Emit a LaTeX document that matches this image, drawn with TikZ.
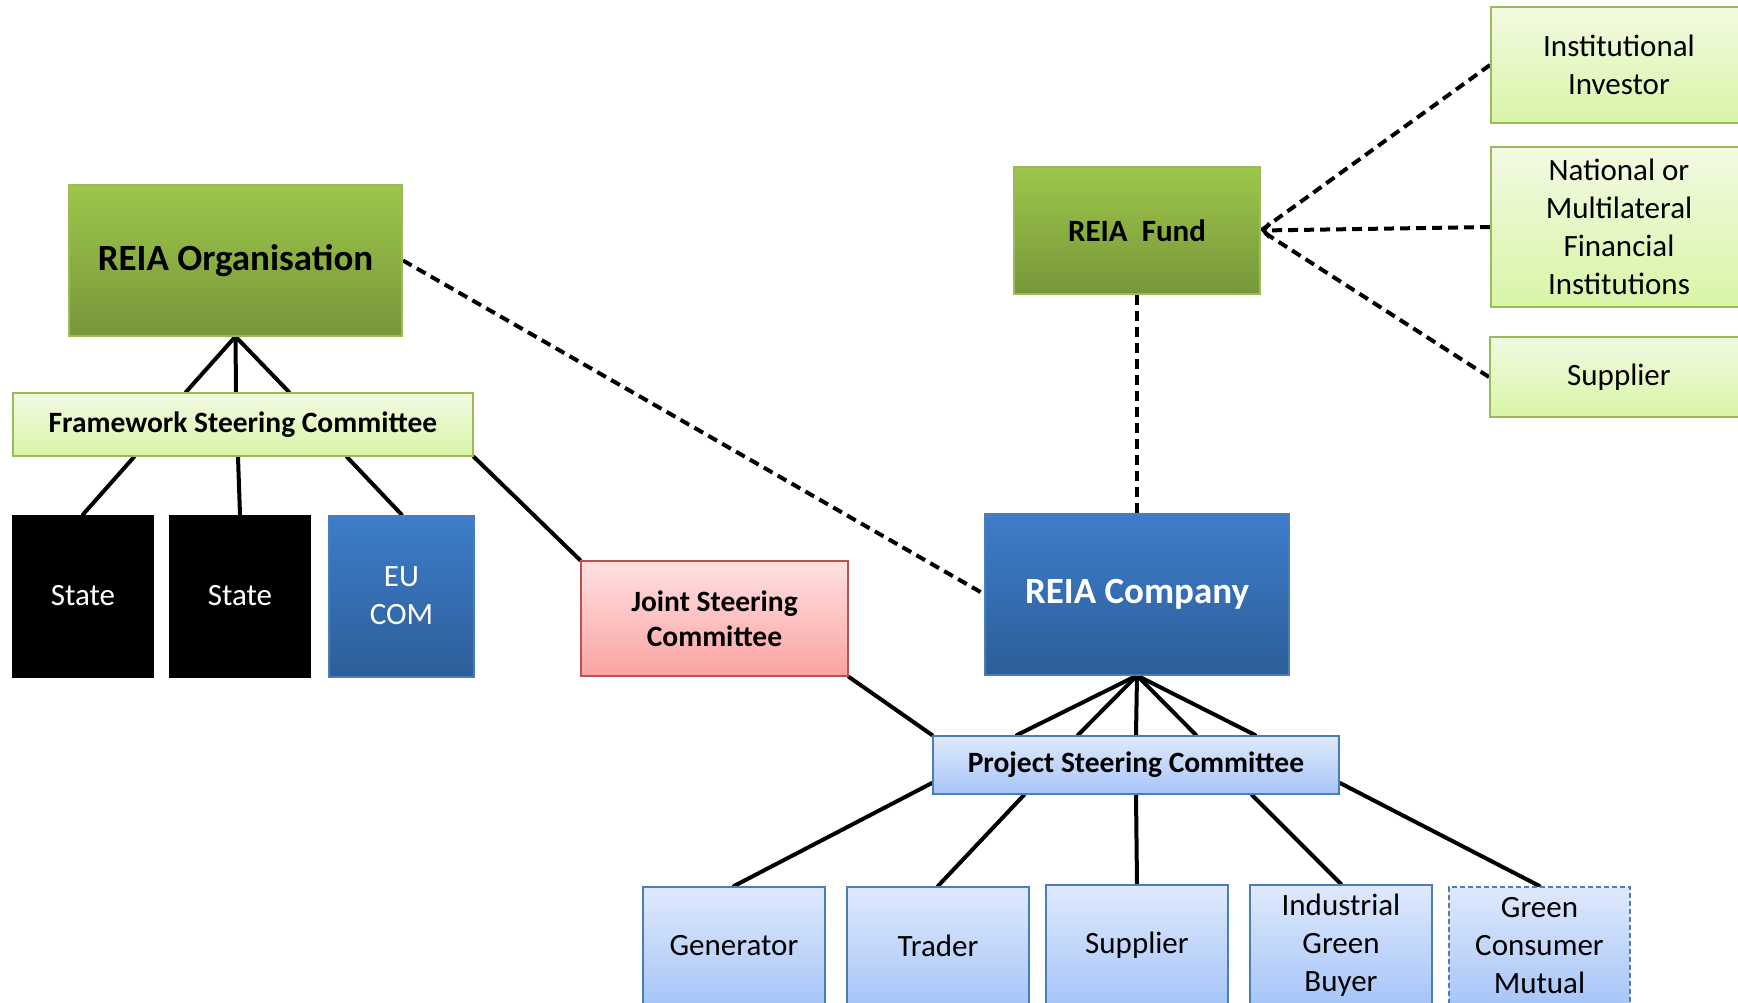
\documentclass[tikz,border=0pt]{standalone}
\usepackage{fontspec}
\setmainfont{Carlito}
\usetikzlibrary{arrows.meta,backgrounds}

% palette
\definecolor{grTop}{HTML}{9DC64B}
\definecolor{grBot}{HTML}{77973A}
\definecolor{grEdge}{HTML}{9BBB59}
\definecolor{lgTop}{HTML}{F2FAE2}
\definecolor{lgBot}{HTML}{D8F5A6}
\definecolor{blTop}{HTML}{3D7DCA}
\definecolor{blBot}{HTML}{2D5E99}
\definecolor{blEdge}{HTML}{4A7EBB}
\definecolor{lbTop}{HTML}{DFE9FC}
\definecolor{lbBot}{HTML}{A6C5F8}
\definecolor{pkTop}{HTML}{FFE1E1}
\definecolor{pkBot}{HTML}{FBA2A2}
\definecolor{pkEdge}{HTML}{C0504D}

\newcommand\txtreg{\fontsize{31}{38}\selectfont}
\newcommand\txtbig{\fontsize{37}{43}\selectfont\bfseries}
\newcommand\txtfund{\fontsize{31}{38}\selectfont\bfseries}
\newcommand\txtmid{\fontsize{29.5}{35}\selectfont\bfseries}

\begin{document}
\begin{tikzpicture}[x=1pt,y=-1pt,
  box/.style={line width=2pt, inner sep=0pt, align=center, font=\txtreg},
  darkgreen/.style={box, draw=grEdge, top color=grTop, bottom color=grBot},
  lightgreen/.style={box, draw=grEdge, top color=lgTop, bottom color=lgBot},
  darkblue/.style={box, draw=blEdge, top color=blTop, bottom color=blBot, text=white},
  lightblue/.style={box, draw=blEdge, top color=lbTop, bottom color=lbBot},
  pinkbox/.style={box, draw=pkEdge, top color=pkTop, bottom color=pkBot},
  statebox/.style={box, draw=black, fill=black, text=white},
  conn/.style={line width=4pt, line cap=round},
  dconn/.style={line width=4pt, dash pattern=on 10pt off 6pt},
  tipin/.style={-{Straight Barb[length=6pt,width=14pt,line width=4pt]}}
]
\useasboundingbox (0,0) rectangle (1738,1003);
\clip (0,0) rectangle (1738,1003);

% left branch: organisation and framework committee
\node[darkgreen, minimum width=333pt, minimum height=150pt, font=\txtbig] (org) at (235.5,260.5) {REIA Organisation};
\node[lightgreen, minimum width=460pt, minimum height=63pt, font=\txtmid] (fsc) at (243,424.5) {Framework Steering Committee};
\node[statebox, minimum width=140pt, minimum height=161pt] (st1) at (83,596) {State};
\node[statebox, minimum width=140pt, minimum height=161pt] (st2) at (240,596) {State};
\node[darkblue, minimum width=145pt, minimum height=161pt] (eu) at (401.5,596) {EU\\COM};

% centre: joint committee, company, fund
\node[pinkbox, minimum width=267pt, minimum height=115pt, font=\txtmid] (jsc) at (714.5,618.5) {Joint Steering\\Committee};
\node[darkblue, minimum width=304pt, minimum height=161pt, font=\txtbig] (comp) at (1137,594) {REIA Company};
\node[darkgreen, minimum width=246pt, minimum height=127pt, font=\txtfund] (fund) at (1137,230.5) {REIA\ \ Fund};

% fund contributors
\node[lightgreen, minimum width=256pt, minimum height=116pt] (inv) at (1619,65) {Institutional\\Investor};
\node[lightgreen, minimum width=256pt, minimum height=160pt] (nat) at (1619,227) {National or\\Multilateral\\Financial\\Institutions};
\node[lightgreen, minimum width=258pt, minimum height=80pt] (sup) at (1619,377) {Supplier};

% project level
\node[lightblue, minimum width=406pt, minimum height=58pt, font=\txtmid] (psc) at (1136,765) {Project Steering Committee};
\node[lightblue, minimum width=182pt, minimum height=118pt] (gen) at (734,946) {Generator};
\node[lightblue, minimum width=182pt, minimum height=118pt] (trd) at (938,946) {Trader};
\node[lightblue, minimum width=182pt, minimum height=120pt] (spl) at (1137,945) {Supplier};
\node[lightblue, minimum width=182pt, minimum height=120pt] (ind) at (1341,945) {Industrial\\Green\\Buyer};
\node[lightblue, dash pattern=on 5pt off 3pt, minimum width=181pt, minimum height=118pt] (gcm) at (1539.5,946) {Green\\Consumer\\Mutual};

\begin{scope}[on background layer]
  % organisation tree
  \draw[conn] (org.south) -- ([xshift=-57pt]fsc.north);
  \draw[conn] (org.south) -- ([xshift=-7pt]fsc.north);
  \draw[conn] (org.south) -- ([xshift=46pt]fsc.north);
  \draw[conn] ([xshift=-109pt]fsc.south) -- (st1.north);
  \draw[conn] ([xshift=-5pt]fsc.south) -- (st2.north);
  \draw[conn] ([xshift=104pt]fsc.south) -- (eu.north);
  \draw[conn] (fsc.south east) -- (jsc.north west);
  \draw[conn] (jsc.south east) -- (psc.north west);
  % company tree
  \foreach \dx in {-119,-58,0,60,119}
    \draw[conn] (comp.south) -- ([xshift=\dx pt]psc.north);
  \draw[conn] ([yshift=12pt]psc.south west) -- (gen.north);
  \draw[conn] ([xshift=-112pt]psc.south) -- (trd.north);
  \draw[conn] (psc.south) -- (spl.north);
  \draw[conn] ([xshift=116pt]psc.south) -- (ind.north);
  \draw[conn] ([yshift=12pt]psc.south east) -- (gcm.north);
  % dashed relations
  \draw[dconn] (org.east) -- (comp.west);
  \draw[dconn] (fund.south) -- (comp.north);
  \draw[dconn] (inv.west) -- (fund.east);
  \draw[dconn] (sup.west) -- (fund.east);
  \draw[dconn, tipin] (nat.west) -- (fund.east);
\end{scope}
\end{tikzpicture}
\end{document}
